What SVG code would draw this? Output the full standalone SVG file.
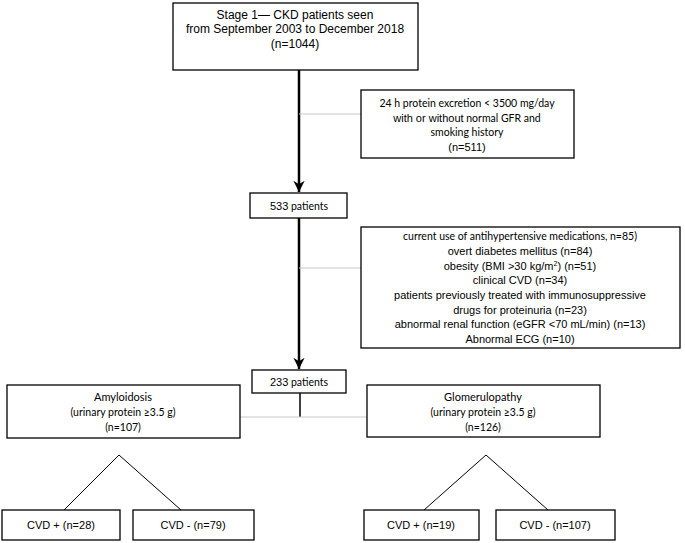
<svg xmlns="http://www.w3.org/2000/svg" width="685" height="543" viewBox="0 0 685 543">
<style>
.box{fill:#fff;stroke:#000;stroke-width:1.3}
.a{font-family:"Liberation Sans",Arial,sans-serif;font-size:11px;fill:#000;text-anchor:middle}
.c{font-family:Lato,"Open Sans",sans-serif;font-size:10.5px;fill:#000;text-anchor:middle}
.main{stroke:#000;stroke-width:2.5;fill:none}
.gray{stroke:#c8c8c8;stroke-width:1.2;fill:none}
.thin{stroke:#000;stroke-width:1;fill:none}
</style>
<defs>
<marker id="ah" viewBox="0 0 10 10" refX="10" refY="5" markerWidth="4.5" markerHeight="4.5" orient="auto" markerUnits="strokeWidth">
<path d="M0,0 L10,5 L0,10 L3,5 Z" fill="#000"/>
</marker>
</defs>
<g id="connectors">
<line class="main" x1="299" y1="70" x2="299" y2="192" marker-end="url(#ah)"/>
<line class="gray" x1="299" y1="114" x2="361" y2="114"/>
<line class="main" x1="299" y1="218" x2="299" y2="369" marker-end="url(#ah)"/>
<line class="gray" x1="299" y1="268" x2="361" y2="268"/>
<line class="thin" x1="300" y1="393" x2="300" y2="417" style="stroke-width:1.5"/>
<line class="gray" x1="240" y1="417" x2="367" y2="417"/>
<polyline class="thin" points="64,510 119,455 181,510"/>
<polyline class="thin" points="424,510 486,455 548,510"/>
</g>
<g id="stage1">
<rect class="box" x="173" y="3" width="245" height="67"/>
<text class="a" style="font-size:12px" x="295" y="19">Stage 1— CKD patients seen</text>
<text class="a" style="font-size:12px" x="295" y="33">from September 2003 to December 2018</text>
<text class="a" style="font-size:12px" x="295" y="48">(n=1044)</text>
</g>
<g id="excl1">
<rect class="box" x="361" y="90" width="213" height="68"/>
<text class="c" x="467" y="107">24 h protein excretion &lt; 3500 mg/day</text>
<text class="c" x="467" y="122"><tspan style="font-family:'Liberation Sans',Arial,sans-serif;font-size:11px">with or without</tspan> normal GFR and</text>
<text class="c" x="467" y="136">smoking history</text>
<text class="a" x="467" y="151">(n=511)</text>
</g>
<g id="n533">
<rect class="box" x="250" y="193" width="97" height="25"/>
<text class="a" x="299" y="210">533<tspan style="font-family:Lato,sans-serif;font-size:10.5px"> patients</tspan></text>
</g>
<g id="excl2">
<rect class="box" x="361" y="227" width="319" height="121"/>
<text class="c" x="520" y="240">current use of antihypertensive medications, n=85)</text>
<text class="a" x="520" y="255">overt diabetes mellitus (n=84)</text>
<text class="a" x="520" y="270">obesity (BMI &gt;30 kg/m<tspan style="font-size:7px" dy="-4">2</tspan><tspan dy="4">) (n=51)</tspan></text>
<text class="a" x="520" y="284">clinical CVD (n=34)</text>
<text class="a" x="520" y="299">patients previously treated with immunosuppressive</text>
<text class="a" x="520" y="314">drugs for proteinuria (n=23)</text>
<text class="a" x="520" y="328">abnormal renal function (eGFR &lt;70 mL/min) (n=13)</text>
<text class="a" x="520" y="343">Abnormal ECG (n=10)</text>
</g>
<g id="n233">
<rect class="box" x="252" y="370" width="94" height="23"/>
<text class="a" x="299" y="386">233<tspan style="font-family:Lato,sans-serif;font-size:10.5px"> patients</tspan></text>
</g>
<g id="amyloidosis">
<rect class="box" x="7" y="385" width="233" height="53"/>
<text class="c" style="font-size:11px" x="123" y="401">Amyloidosis</text>
<text class="c" x="123" y="416">(urinary protein ≥3.5 g)</text>
<text class="c" x="123" y="431">(n=107)</text>
</g>
<g id="glomerulopathy">
<rect class="box" x="367" y="385" width="233" height="52"/>
<text class="c" style="font-size:11px" x="483" y="401">Glomerulopathy</text>
<text class="c" x="483" y="416">(urinary protein ≥3.5 g)</text>
<text class="c" x="483" y="431">(n=126)</text>
</g>
<g id="cvd1p">
<rect class="box" x="2" y="510" width="118" height="30"/>
<text class="a" x="61" y="529">CVD + (n=28)</text>
</g>
<g id="cvd1m">
<rect class="box" x="133" y="510" width="121" height="30"/>
<text class="a" x="193" y="529">CVD - (n=79)</text>
</g>
<g id="cvd2p">
<rect class="box" x="364" y="510" width="115" height="30"/>
<text class="a" x="421" y="529">CVD + (n=19)</text>
</g>
<g id="cvd2m">
<rect class="box" x="496" y="510" width="119" height="30"/>
<text class="a" x="555" y="529">CVD - (n=107)</text>
</g>
</svg>
